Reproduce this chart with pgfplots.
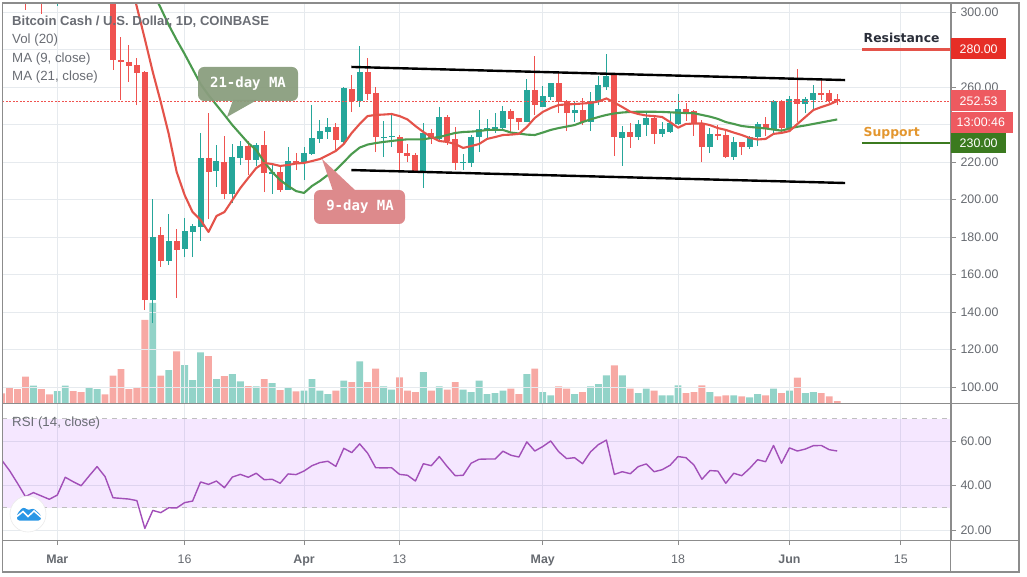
\documentclass[border=0pt]{standalone}
\usepackage{fontspec}
\setmainfont{Liberation Sans}
\newfontfamily\annofont{DejaVu Sans}
\newfontfamily\callfont{DejaVu Sans Mono}
\usepackage{pgfplots}
\usepackage{pgfplotstable}
\pgfplotsset{compat=1.18}

\definecolor{candlered}{HTML}{EF5350}
\definecolor{candlegreen}{HTML}{26A69A}
\definecolor{volred}{HTML}{F7A9A4}
\definecolor{volgreen}{HTML}{92D3C8}
\definecolor{mared}{HTML}{E4534A}
\definecolor{magreen}{HTML}{4B9A4E}
\definecolor{rsiline}{HTML}{A24FB8}
\definecolor{rsiband}{HTML}{9915FF}
\definecolor{gridc}{HTML}{E6EAEE}
\definecolor{framec}{HTML}{8C8C8C}
\definecolor{tickc}{HTML}{666A70}
\definecolor{textc}{HTML}{6A6D74}
\definecolor{callgreen}{HTML}{8A9E7E}
\definecolor{callred}{HTML}{DD8A8C}
\definecolor{resred}{HTML}{E62E26}
\definecolor{supgreen}{HTML}{3B7A1F}
\definecolor{lastred}{HTML}{EE5A60}
\definecolor{suporange}{HTML}{E3962E}
\definecolor{resdark}{HTML}{2A2E39}
\definecolor{logoblue}{HTML}{2A97E6}

% d = days from 1 March
\pgfplotstableread{
d open high low close
-4 330 340 301.1 320
-2 325 335 299 315
7 330 335 269.1 274.4
8 274.4 286.7 253.1 273.3
9 273.3 282.4 262.7 271.2
10 271.7 275.5 250.4 267.5
11 268 268.5 141.1 146.4
13 181.1 185.3 164 167.2
15 177.9 184.3 147.5 173.1
19 222.1 246.3 189.6 214.7
21 220 233.9 200.3 202.9
24 228.5 231.2 213.1 221.1
26 229.1 236.5 204 214.1
28 214.7 218.4 204 205.1
30 220.5 224.8 215.7 218.9
35 238.7 240.8 226.4 231.7
37 258.9 266.4 246.7 252.5
39 268 275.5 253.1 256.3
40 256.8 260 225.3 233.3
43 233.3 234.4 215.7 224.8
44 224.8 229.6 220 223.2
45 223.7 224.8 214.7 214.7
47 235.5 237.6 229.6 232.3
49 244 245.1 229.1 231.2
50 232.3 238.7 215.7 219.5
57 247.2 248.3 235.5 242.9
58 243.5 243.5 237.1 241.3
60 258.4 276.5 245.1 250.4
63 262.1 267.5 246.1 252
64 252.5 253.1 236.5 246.1
66 247.7 254.1 239.7 241.3
70 266.4 266.9 223.2 233.3
72 236 240.8 227.5 233.3
75 243.5 245.1 229.6 235
79 248.3 251.5 241.9 246.7
80 247.2 247.7 233.9 240.3
81 240.3 242.4 220 228
83 235 239.7 231.7 233.9
84 234.4 236.5 222.1 222.7
86 230.7 230.7 223.7 228
89 240.3 244 233.9 238.1
91 252.5 253.1 236 238.1
93 253.6 269.6 241.3 250.9
96 256.8 263.7 253.1 255.7
97 256.8 258.4 251.5 252.5
98 253.6 256.3 250.4 252.5
}\redcandles

\pgfplotstableread{
d open high low close
0 320 335 303.2 330
12 146.4 200.3 134.1 180
14 167.2 192.3 165.1 177.9
16 173.6 190.1 169.3 183.2
17 182.7 187 169.3 185.9
18 185.3 235.5 177.9 222.1
20 215.2 229.1 206.7 220.5
22 202.9 229.6 198.1 222.7
23 222.1 231.2 218.4 228.5
25 221.1 230.1 217.9 229.1
27 213.6 218.4 202.9 214.7
29 205.1 228 205.1 220.5
31 219.5 228 210.4 224.8
32 224.3 250.4 223.7 232.8
33 232.3 242.4 230.1 236.5
34 236 243.5 232.3 238.7
36 230.7 260 229.1 259.5
38 252.5 281.9 249.3 268
41 232.8 241.9 222.7 233.3
42 233.3 245.6 228 233.9
46 214.7 240.8 206.1 235.5
48 232.3 249.3 231.7 244
51 219.5 224.3 215.7 220
52 219.5 234.4 217.3 233.3
53 233.3 247.7 225.3 237.6
54 237.1 242.9 232.8 238.1
55 237.6 246.1 235.5 238.7
56 238.1 249.9 237.1 247.2
59 241.3 264.3 241.3 258.4
61 249.3 260.5 249.3 255.2
62 254.7 262.1 253.1 262.1
65 246.1 252.5 241.3 247.7
67 241.3 257.3 236.5 252.5
68 252 265.9 250.4 261.1
69 260 277.6 258.4 265.9
71 232.8 239.2 217.9 236
73 233.3 242.4 231.7 240.3
74 239.7 246.1 233.9 243.5
76 235 241.3 233.3 237.6
77 236 246.1 235.5 240.8
78 240.3 256.3 239.7 248.3
82 228 238.1 224.8 235
85 222.7 233.3 221.1 230.7
87 228 233.9 226.9 233.3
88 233.3 241.3 228.5 240.3
90 237.1 253.1 235.5 252.5
92 238.1 255.2 237.1 253.6
94 250.9 254.7 246.1 253.6
95 253.1 261.1 247.2 256.8
}\greencandles

% volume, in the chart's own height units
\pgfplotstableread{
d v
-7 9.7
-6 15.3
-5 14
-4 26.3
-2 14
-1 8.7
2 12
3 11
6 8.7
7 27.3
8 34
9 14
10 15.3
11 83
13 27.3
15 51.7
19 47
21 27
24 17
26 24
28 13
30 11.7
35 12.3
37 21
39 21
40 34.3
43 25.7
44 12.3
45 11
47 12.3
49 13.3
50 21
57 14.3
58 9
60 34.3
63 16.7
64 14.3
66 11
70 37.7
72 14.3
75 12.3
79 10
80 11
81 17.7
83 6.7
84 7.7
86 6.7
89 7.7
91 10
93 25.3
96 10
97 6.7
98 2
}\redvol

\pgfplotstableread{
d v
-3 17.3
0 12
1 17.3
4 15.3
5 14
12 100
14 33
16 38
17 23
18 50.7
20 24
22 29
23 21.7
25 16.7
27 20
29 15.7
31 12.3
32 24
33 12.3
34 9
36 22.3
38 41.7
41 16.7
42 13.3
46 31
48 16.7
51 13.3
52 11
53 22.3
54 9
55 10
56 12.3
59 29
61 11
62 7.7
65 9
67 16.7
68 19
69 27.7
71 27.7
73 10
74 14.3
76 7.7
77 7.7
78 17.7
82 11
85 7.7
87 5.7
88 9
90 14.3
92 12.3
94 10
95 11
}\greenvol

\pgfplotstableread{
d ma
9 319.7
10 302.7
11 285.6
12 268
13 252
14 235
15 214.7
16 202.4
17 193.3
18 189.1
19 182.7
20 191.2
21 193.3
22 199.7
23 206.1
24 211.5
25 216.8
26 219.5
27 218.9
28 217.9
29 218.4
30 219.2
31 219.5
32 220.5
33 221.6
34 223.7
35 225.9
36 229.6
37 235.5
38 240.3
39 244.5
40 245.1
41 245.3
42 245.6
43 244.5
44 242.7
45 239.2
46 236
47 233.3
48 231.2
49 230.7
50 229.6
51 227.5
52 228.5
53 229.6
54 232.3
55 233.3
56 234.4
57 234.6
58 235
59 238.7
60 243.5
61 246.7
62 248.8
63 250.4
64 250.7
65 250.9
66 251.2
67 251.5
68 252.3
69 253.9
70 251.7
71 249.3
72 246.8
73 245.6
74 244.8
75 244.5
76 244
77 241.3
78 238.3
79 240.3
80 240.5
81 240.6
82 239.7
83 238.1
84 237.1
85 235.7
86 234.4
87 232.8
88 232
89 232.3
90 235
91 235.5
92 236.5
93 240.3
94 244
95 247.7
96 249.3
97 250.7
98 252.5
}\manine

\pgfplotstableread{
d ma
12 310.7
13 302.1
14 293.1
15 285.1
16 277.6
17 269.6
18 261.6
19 255.7
20 250.4
21 245.1
22 239.7
23 234.9
24 230.1
25 226.4
26 220
27 214.7
28 210.4
29 207.2
30 204.5
31 203.5
32 207.2
33 209.9
34 213.1
35 215.7
36 220
37 224.3
38 227.7
39 229.3
40 230.1
41 230.7
42 231.2
43 231.7
44 232.1
45 232.1
46 232.1
47 232.8
48 233.3
49 234.4
50 235.5
51 236
52 236.2
53 236.5
54 237.1
55 237.2
56 237.1
57 235.7
58 235.2
59 234.6
60 234.4
61 235.7
62 237.1
63 238.1
64 238.9
65 239.7
66 241.3
67 242.7
68 244
69 245.1
70 245.9
71 246.4
72 246.7
73 246.8
74 246.8
75 246.8
76 246.7
77 246.5
78 246.3
79 246.1
80 246
81 245.1
82 244.2
83 243
84 241.3
85 240.3
86 239.2
87 238.7
88 238.3
89 237.9
90 237.3
91 236.7
92 237.9
93 238.8
94 239.5
95 240.3
96 241.1
97 241.9
98 242.7
}\matwentyone

\pgfplotstableread{
d rsi
-7 51.5
-6 46.7
-5 41
-4 35
-3 36.8
-2 35.3
-1 33.8
0 35.7
1 43.7
2 41.7
3 39.9
4 44.3
5 48.5
6 44
7 34.5
8 34.2
9 33.9
10 33.2
11 20.7
12 28.8
13 27.8
14 30
15 29.9
16 32.3
17 33
18 41.6
19 40.5
20 42
21 39
22 43.8
23 45
24 43.7
25 45.5
26 42.6
27 42.8
28 41
29 45.2
30 44.9
31 46.5
32 48.9
33 50.3
34 50.9
35 48.6
36 56.7
37 54.8
38 58.7
39 54.5
40 48
41 47.9
42 48
43 45
44 44.6
45 42
46 49.8
47 48.9
48 53
49 48.5
50 44.4
51 44.6
52 50
53 51.8
54 51.9
55 51.9
56 55.4
57 53.6
58 52.8
59 59.6
60 55.5
61 57.5
62 60
63 55.2
64 52.1
65 52.5
66 49.8
67 55.1
68 58.4
69 60.4
70 45
71 46.2
72 45.3
73 48.5
74 49.7
75 46.2
76 47.1
77 49.1
78 53
79 52.5
80 49.2
81 42.8
82 46.7
83 46.5
84 41
85 45.5
86 44.4
87 47.7
88 51.6
89 50.7
90 58
91 50
92 56.9
93 55.5
94 56.4
95 57.9
96 58
97 56.1
98 55.5
}\rsitable

\pgfplotsset{
  pane/.style={
    scale only axis, width=948.7pt,
    xmin=-6.91, xmax=112.3,
    xtick={0,16,31,43,61,78,92,106},
  },
  ticklook/.style={
    axis line style={draw=framec,line width=1pt},
    tick style={draw=framec,line width=.8pt},
    major tick length=5pt, tick align=outside,
    xmajorgrids, ymajorgrids,
    grid style={gridc,line width=.9pt},
    ytick pos=right, yticklabel pos=right,
    scaled y ticks=false,
    y tick label style={font=\fontsize{12.4}{14}\selectfont,text=tickc,xshift=1pt},
  },
  wicks/.style={draw=none, no markers, forget plot, error bars/.cd, y dir=plus, y explicit, error mark=none,
    error bar style={draw=#1,line width=1pt}},
  bodies/.style={draw=none, no markers, forget plot, error bars/.cd, y dir=plus, y explicit, error mark=none,
    error bar style={draw=#1,line width=6pt}},
}

\begin{document}
\begin{tikzpicture}[x=1pt,y=1pt]
\useasboundingbox (0,0) rectangle (1027,576);

% volume sits behind the price pane
\begin{axis}[pane, hide axis, at={(2.3pt,173pt)}, anchor=south west, height=400pt, ymin=0, ymax=400]
  \addplot[ybar, bar width=6.9pt, bar shift=0pt, fill=volred, draw=none] table[x=d,y=v] \redvol;
  \addplot[ybar, bar width=6.9pt, bar shift=0pt, fill=volgreen, draw=none] table[x=d,y=v] \greenvol;
\end{axis}

\begin{axis}[pane, ticklook, at={(2.3pt,173pt)}, anchor=south west, height=400pt,
    ymin=91.47, ymax=304.8, ytick={100,120,...,300},
    yticklabels={100.00,120.00,140.00,160.00,180.00,200.00,220.00,,260.00,,300.00},
    xticklabels={}, xtick style={draw=none}]
  \addplot[wicks=candlered] table[x=d,y=low,y error plus expr=\thisrow{high}-\thisrow{low}] \redcandles;
  \addplot[wicks=candlegreen] table[x=d,y=low,y error plus expr=\thisrow{high}-\thisrow{low}] \greencandles;
  \addplot[bodies=candlered] table[x=d,y=close,y error plus expr=\thisrow{open}-\thisrow{close}] \redcandles;
  \addplot[bodies=candlegreen] table[x=d,y=open,y error plus expr=\thisrow{close}-\thisrow{open}] \greencandles;
  % moving averages
  \addplot[magreen, line width=2.1pt, no markers, line join=round] table[x=d,y=ma] \matwentyone;
  \addplot[mared, line width=2.1pt, no markers, line join=round] table[x=d,y=ma] \manine;
  % last price
  \addplot[candlered, line width=.7pt, dash pattern=on 2pt off 1.5pt] coordinates {(-6.91,252.53)(112.3,252.53)};
  % channel
  \addplot[black, line width=2.4pt] coordinates {(36.95,270.7)(99,263.7)};
  \addplot[black, line width=2.4pt] coordinates {(36.95,215.7)(99,208.8)};
  % support and resistance
  \addplot[draw=supgreen, line width=1.8pt] coordinates {(101.1,230)(112.3,230)};
  \addplot[mared, line width=2.4pt, no markers, solid] coordinates {(101.1,279.9)(112.3,279.9)};
\end{axis}

\begin{axis}[pane, ticklook, at={(2.3pt,36pt)}, anchor=south west, height=137pt,
    ymin=15.5, ymax=77.08, ytick={20,40,60},
    yticklabels={20.00,40.00,60.00},
    xtick pos=bottom,
    xticklabels={\textbf{Mar},16,\textbf{Apr},13,\textbf{May},18,\textbf{Jun},15},
    x tick label style={font=\fontsize{12.4}{14}\selectfont,text=tickc,yshift=-6pt}]
  \addplot[draw=none, fill=rsiband, fill opacity=.1, forget plot]
    coordinates {(-6.91,30)(112.3,30)(112.3,70)(-6.91,70)} -- cycle;
  \addplot[black!25, line width=.8pt, dash pattern=on 5pt off 5pt] coordinates {(-6.91,70)(112.3,70)};
  \addplot[black!25, line width=.8pt, dash pattern=on 5pt off 5pt] coordinates {(-6.91,30)(112.3,30)};
  \addplot[rsiline, line width=1.4pt, no markers, line join=round] table[x=d,y=rsi] \rsitable;
\end{axis}

% everything below uses reference pixels, y going down
\begin{scope}[shift={(0,576)},y=-1pt]
  \draw[framec,line width=1.2pt] (2.3,3) rectangle (1019,572);
  \draw[framec,line width=1pt] (950.7,3) -- (950.7,572);
  \draw[framec,line width=1pt] (2.3,403) -- (1019,403);
  \draw[framec,line width=1pt] (2.3,540) -- (1019,540);

  \tikzset{leg/.style={anchor=west,inner sep=0pt,text=textc,font=\fontsize{13.3}{15}\selectfont}}
  \node[leg,font=\fontsize{13.1}{15}\selectfont\bfseries] at (12,21.5) {Bitcoin Cash / U.S. Dollar, 1D, COINBASE};
  \node[leg] at (12,40) {Vol (20)};
  \node[leg] at (12,59) {MA (9, close)};
  \node[leg] at (12,77.5) {MA (21, close)};
  \node[leg] at (12,423) {RSI (14, close)};

  % callouts
  \fill[callgreen,fill opacity=.95] (233,100) -- (227,117) -- (257,100) -- cycle;
  \fill[callgreen,fill opacity=.95,rounded corners=6pt] (198,67) rectangle (298,101);
  \node[text=white,font=\callfont\bfseries\fontsize{14}{15}\selectfont] at (248,84) {21-day MA};
  \fill[callred] (322,159) -- (333,191) -- (356,191) -- cycle;
  \fill[callred,rounded corners=6pt] (314,190) rectangle (405,224);
  \node[text=white,font=\callfont\bfseries\fontsize{14}{15}\selectfont] at (360,207) {9-day MA};

  \node[anchor=west,inner sep=0pt,text=resdark,font=\annofont\bfseries\fontsize{12.4}{14}\selectfont] at (863.5,38) {Resistance};
  \node[anchor=west,inner sep=0pt,text=suporange,font=\annofont\bfseries\fontsize{12.4}{14}\selectfont] at (863.5,133) {Support};

  % price scale badges
  \tikzset{badge/.style={anchor=west,inner sep=0pt,text=white,font=\fontsize{12.4}{14}\selectfont}}
  \fill[resred] (951,38) rectangle (1006,59);
  \node[badge] at (959.5,49) {280.00};
  \fill[lastred] (951,90) rectangle (1006,111);
  \node[badge] at (959.5,101) {252.53};
  \fill[lastred] (951,112) rectangle (1012.7,132.7);
  \node[badge] at (956.5,122.5) {13:00:46};
  \fill[supgreen] (951,133) rectangle (1006,153);
  \node[badge] at (959.5,143) {230.00};

  % logo
  \fill[white] (28,514) circle (18);
  \draw[black!8,line width=.6pt] (28,514) circle (18);
  \fill[logoblue,rounded corners=2.5pt] (17,520.5) -- (17,514) -- (23,507) -- (29,510.5) -- (33,508) -- (41,515) -- (41,520.5) -- cycle;
  \draw[white,line width=1.5pt] (15,518) -- (23,511.5) -- (28,516.5) -- (34,511) -- (42,518);
\end{scope}
\end{tikzpicture}
\end{document}
